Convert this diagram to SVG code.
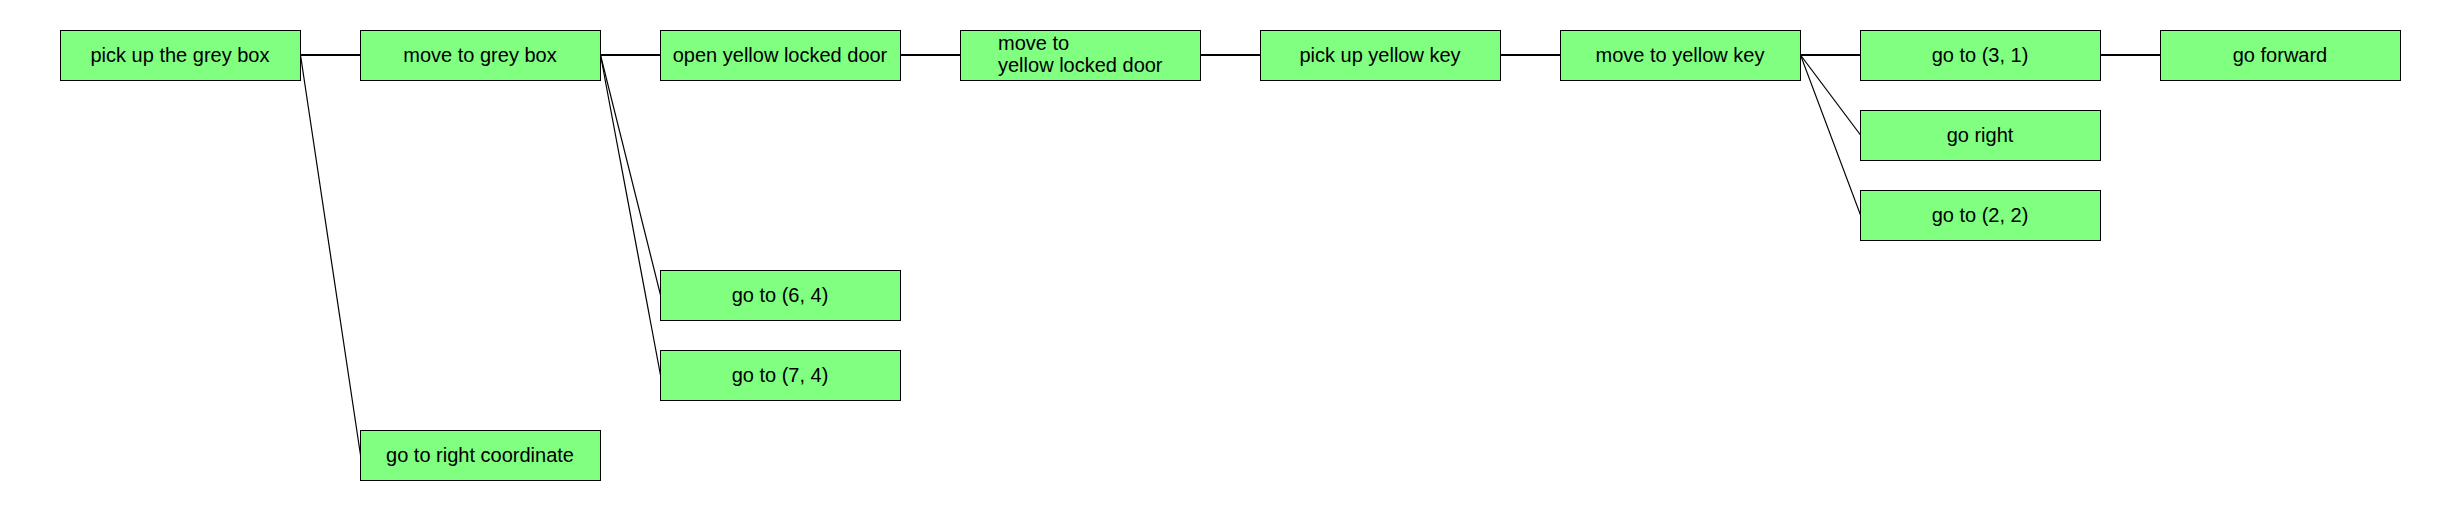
<svg xmlns="http://www.w3.org/2000/svg" width="2460" height="510" viewBox="0 0 2460 510">
<style>
.node rect{fill:#80FF80;stroke:#000;stroke-width:1}
.node text{font-family:"Liberation Sans",Arial,sans-serif;font-size:20px;fill:#000;text-anchor:middle}
.node text.ml{text-anchor:start}
#connectors line{stroke:#000;fill:none}
#connectors line.h{stroke-width:2}
#connectors line.d{stroke-width:1.2}
</style>
<rect x="0" y="0" width="2460" height="510" fill="#fff"/>
<g id="connectors">
<line class="h" x1="300" y1="55" x2="360" y2="55"/>
<line class="h" x1="600" y1="55" x2="660" y2="55"/>
<line class="h" x1="900" y1="55" x2="960" y2="55"/>
<line class="h" x1="1200" y1="55" x2="1260" y2="55"/>
<line class="h" x1="1500" y1="55" x2="1560" y2="55"/>
<line class="h" x1="1800" y1="55" x2="1860" y2="55"/>
<line class="h" x1="2100" y1="55" x2="2160" y2="55"/>
<line class="d" x1="300.5" y1="55" x2="360.5" y2="455"/>
<line class="d" x1="600.5" y1="55" x2="660.5" y2="295"/>
<line class="d" x1="600.5" y1="55" x2="660.5" y2="375"/>
<line class="d" x1="1800.5" y1="55" x2="1860.5" y2="135"/>
<line class="d" x1="1800.5" y1="55" x2="1860.5" y2="215"/>
</g>
<g id="n1" class="node"><rect x="60.5" y="30.5" width="240" height="50"/><text x="180" y="62">pick up the grey box</text></g>
<g id="n2" class="node"><rect x="360.5" y="30.5" width="240" height="50"/><text x="480" y="62">move to grey box</text></g>
<g id="n3" class="node"><rect x="660.5" y="30.5" width="240" height="50"/><text x="780" y="62">open yellow locked door</text></g>
<g id="n4" class="node"><rect x="960.5" y="30.5" width="240" height="50"/><text class="ml" x="998" y="49.5">move to</text><text class="ml" x="998" y="72">yellow locked door</text></g>
<g id="n5" class="node"><rect x="1260.5" y="30.5" width="240" height="50"/><text x="1380" y="62">pick up yellow key</text></g>
<g id="n6" class="node"><rect x="1560.5" y="30.5" width="240" height="50"/><text x="1680" y="62">move to yellow key</text></g>
<g id="n7" class="node"><rect x="1860.5" y="30.5" width="240" height="50"/><text x="1980" y="62">go to (3, 1)</text></g>
<g id="n8" class="node"><rect x="2160.5" y="30.5" width="240" height="50"/><text x="2280" y="62">go forward</text></g>
<g id="n9" class="node"><rect x="1860.5" y="110.5" width="240" height="50"/><text x="1980" y="142">go right</text></g>
<g id="n10" class="node"><rect x="1860.5" y="190.5" width="240" height="50"/><text x="1980" y="222">go to (2, 2)</text></g>
<g id="n11" class="node"><rect x="660.5" y="270.5" width="240" height="50"/><text x="780" y="302">go to (6, 4)</text></g>
<g id="n12" class="node"><rect x="660.5" y="350.5" width="240" height="50"/><text x="780" y="382">go to (7, 4)</text></g>
<g id="n13" class="node"><rect x="360.5" y="430.5" width="240" height="50"/><text x="480" y="462">go to right coordinate</text></g>
</svg>
